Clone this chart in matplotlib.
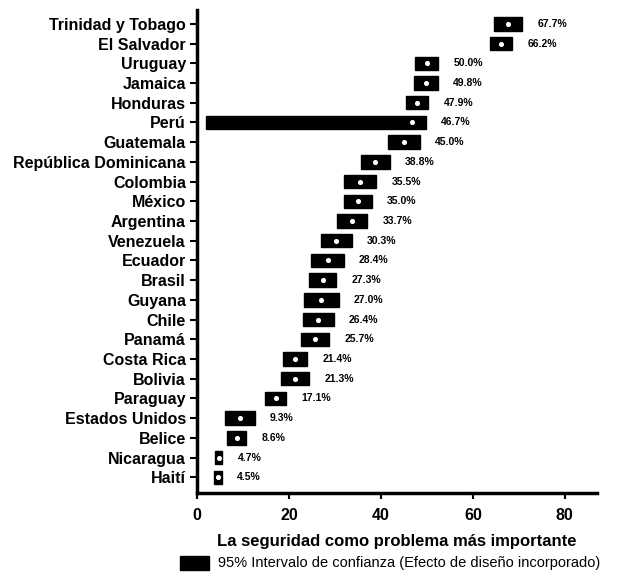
import matplotlib
matplotlib.use("Agg")
import matplotlib.pyplot as plt
from matplotlib.patches import Patch
import numpy as np

plt.rcParams['font.family'] = ['Liberation Sans', 'DejaVu Sans']

countries = [ "Trinidad y Tobago", "El Salvador", "Uruguay", "Jamaica", "Honduras", "Perú",
              "Guatemala", "República Dominicana", "Colombia", "México", "Argentina", "Venezuela",
              "Ecuador", "Brasil", "Guyana", "Chile", "Panamá", "Costa Rica", "Bolivia",
              "Paraguay", "Estados Unidos", "Belice", "Nicaragua", "Haití" ]
means = [ 67.7, 66.2, 50.0, 49.8, 47.9, 46.7, 45.0, 38.8, 35.5, 35.0, 33.7, 30.3,
          28.4, 27.3, 27.0, 26.4, 25.7, 21.4, 21.3, 17.1, 9.3, 8.6, 4.7, 4.5 ]
ci_low = [ 64.7, 63.8, 47.5, 47.2, 45.5, 2.0, 41.6, 35.7, 32.0, 32.0, 30.4, 26.9,
           24.9, 24.3, 23.2, 23.1, 22.7, 18.8, 18.2, 14.8, 6.0, 6.5, 3.9, 3.6 ]
ci_high = [ 70.7, 68.6, 52.5, 52.4, 50.3, 49.8, 48.4, 41.9, 39.0, 38.0, 37.0, 33.7,
            31.9, 30.3, 30.8, 29.7, 28.7, 24.0, 24.4, 19.4, 12.6, 10.7, 5.5, 5.4 ]
xticks = [ 0, 20, 40, 60, 80 ]

fig = plt.figure( figsize=(6.17, 5.78), dpi=100 )
ax = fig.add_axes( [ 197/617, 1 - 493/578, 400/617, 483/578 ] )

y = np.arange( len( countries ) )
lo = np.array( ci_low )
hi = np.array( ci_high )
ax.barh( y, hi - lo, left=lo, height=0.68, color='black', edgecolor='black' )
ax.scatter( means, y, s=7, color='white', zorder=3 )

for yi, m, h in zip( y, means, hi ):
    ax.text( h + 3.3, yi, f"{m:.1f}%", va='center', ha='left', fontsize=7.5, fontweight='bold' )

ax.set_yticks( y )
ax.set_yticklabels( countries, fontsize=11.5, fontweight='bold' )
ax.set_ylim( len( countries ) - 0.2, -0.7 )
ax.set_xlim( 0, 87 )
ax.set_xticks( xticks )
ax.set_xticklabels( [ str( t ) for t in xticks ], fontsize=11.5, fontweight='bold' )
ax.tick_params( axis='y', length=5, width=1.5, pad=3 )
ax.tick_params( axis='x', length=4, width=1.5, pad=7 )
ax.set_xlabel( 'La seguridad como problema más importante', fontsize=12, fontweight='bold', labelpad=8 )

for side in [ 'top', 'right' ]:
    ax.spines[ side ].set_visible( False )
for side in [ 'left', 'bottom' ]:
    ax.spines[ side ].set_linewidth( 2.5 )

handle = Patch( facecolor='black', edgecolor='black' )
fig.legend( handles=[ handle ], labels=[ '95% Intervalo de confianza (Efecto de diseño incorporado)' ],
            loc='center left', bbox_to_anchor=( 167/617, 1 - 563/578 ), frameon=False,
            fontsize=10.5, handlelength=2.0, handleheight=1.1, handletextpad=0.6 )

plt.savefig( "out.png", dpi=100 )
